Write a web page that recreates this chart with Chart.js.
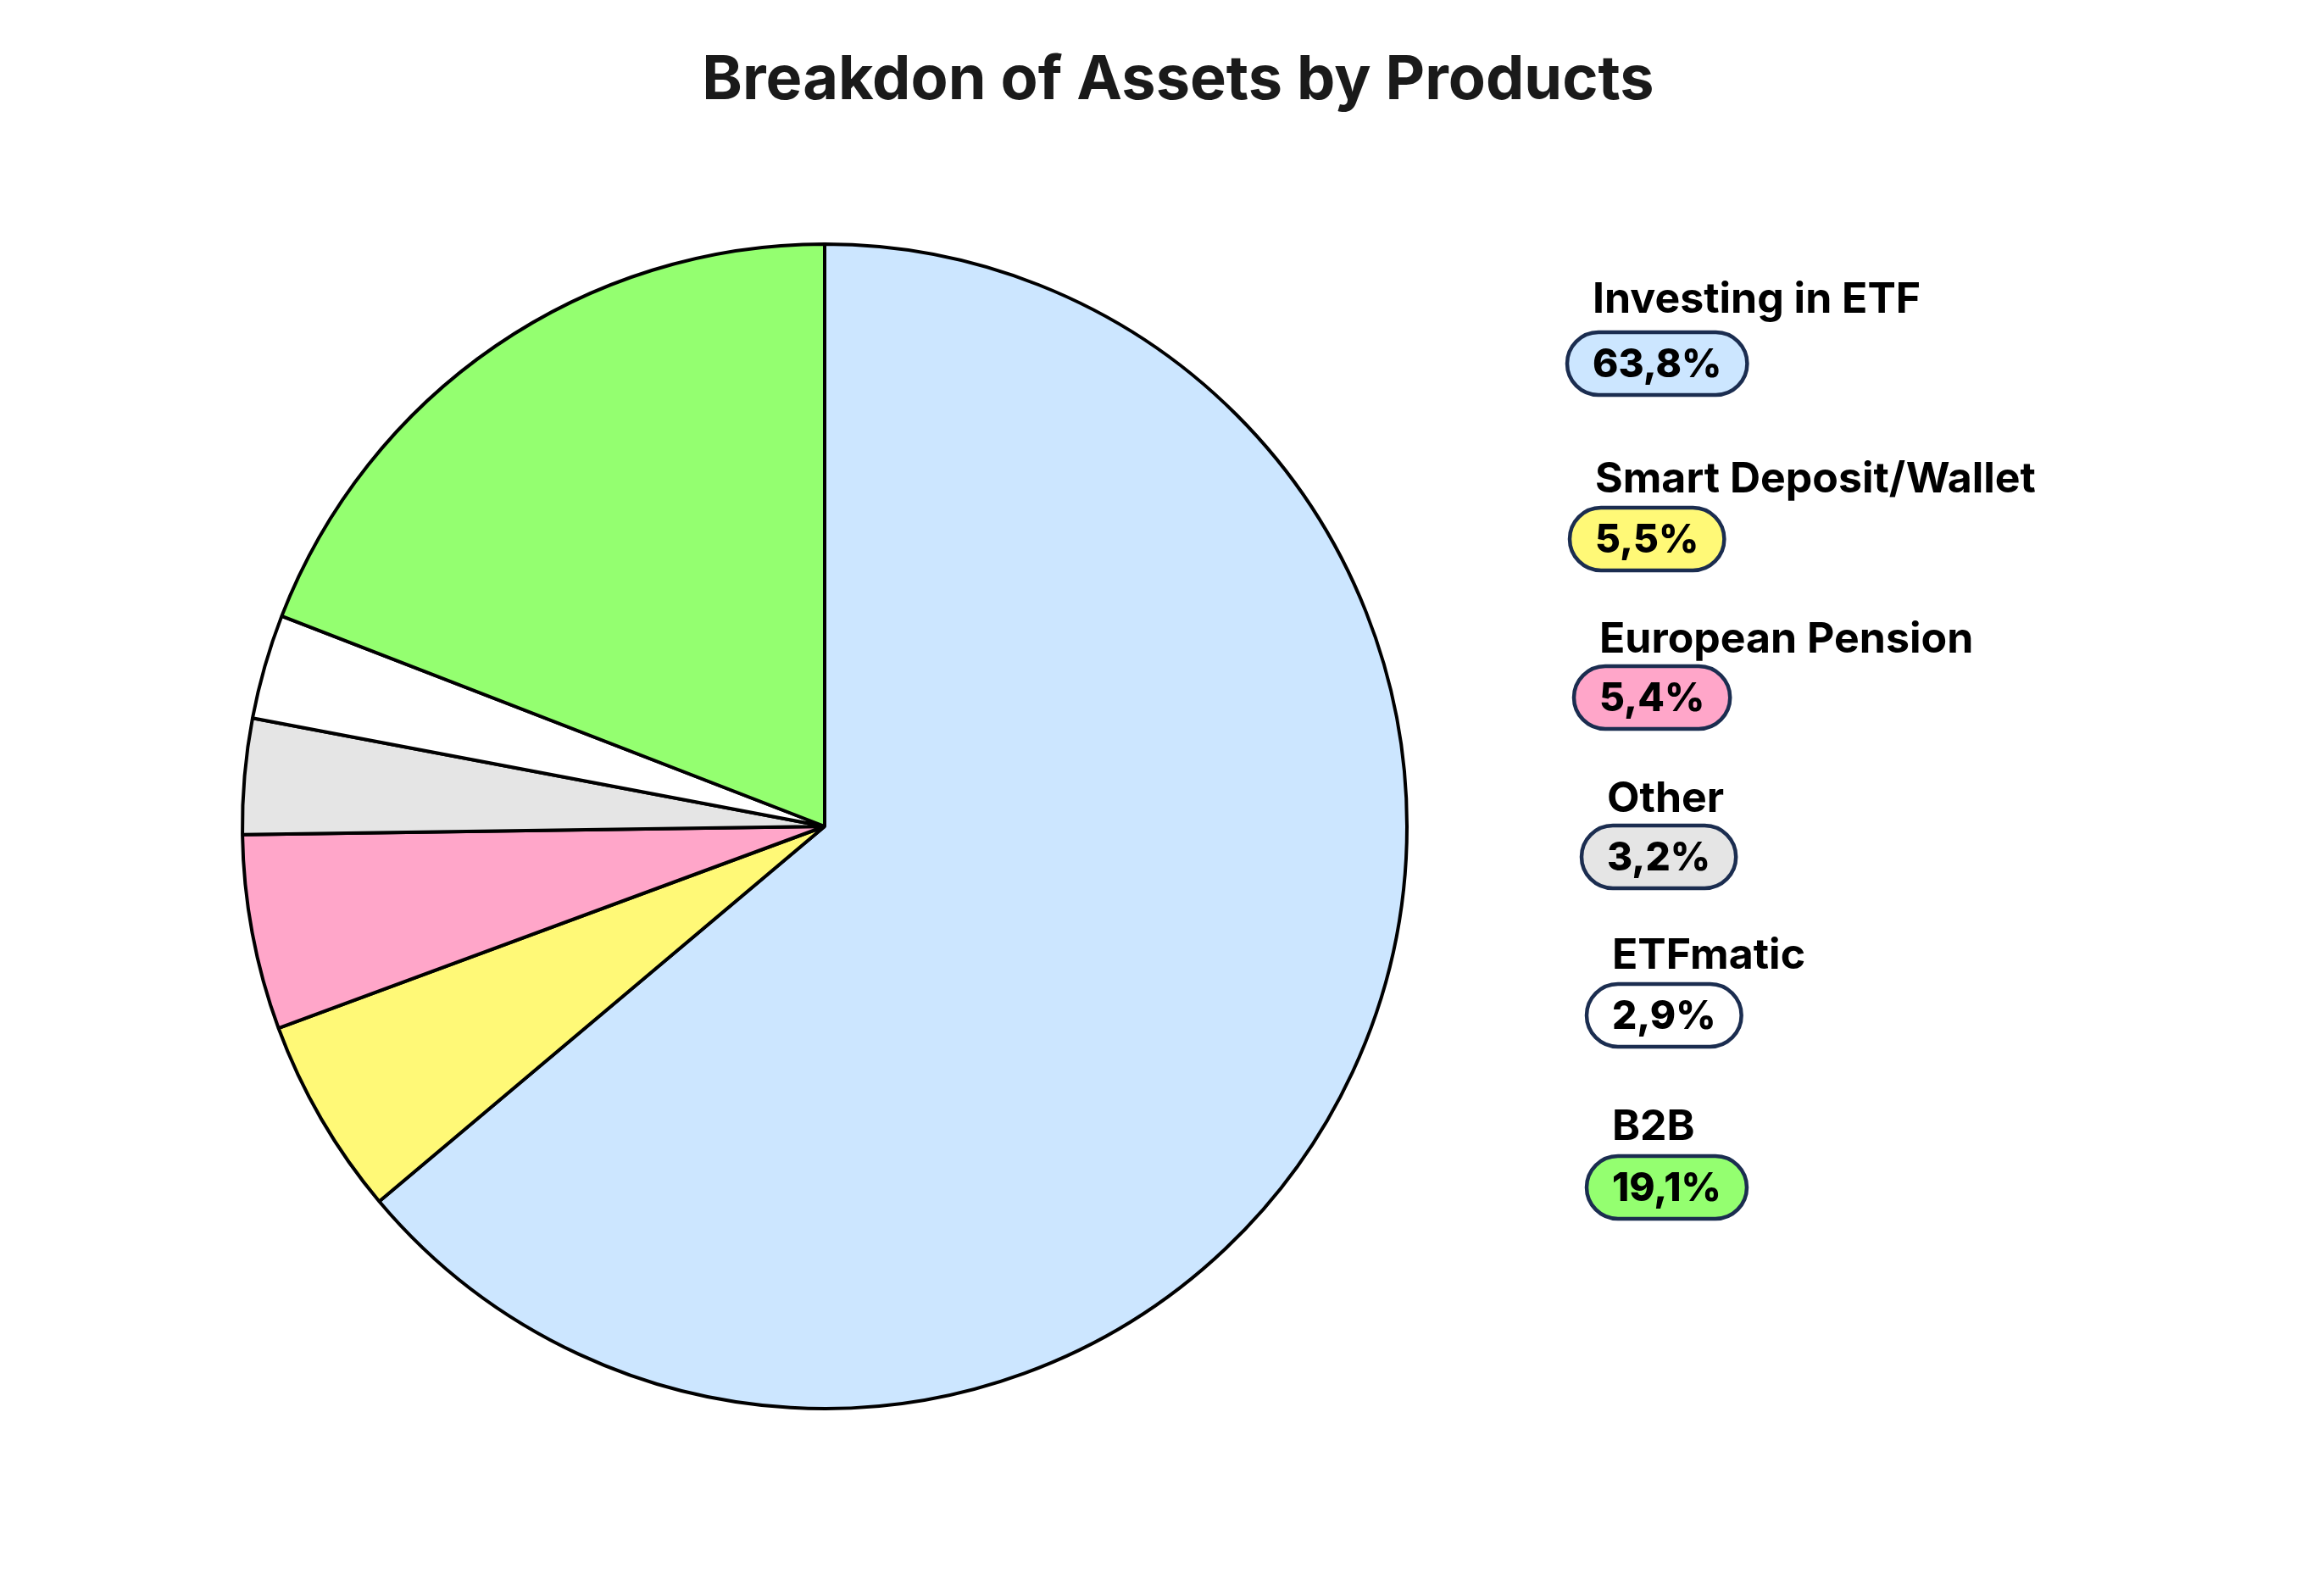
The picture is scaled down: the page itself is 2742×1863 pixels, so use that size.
<!DOCTYPE html>
<html>
<head>
<meta charset="utf-8">
<title>Breakdon of Assets by Products</title>
<script src="https://cdn.jsdelivr.net/npm/chart.js@4.4.1/dist/chart.umd.min.js"></script>
<style>
    html, body { margin: 0; padding: 0; background: #ffffff; }
    canvas { display: block; }
</style>
</head>
<body>
<canvas id="assetsChart" width="2742" height="1863"></canvas>
<script>
// chart data
const chartTitle = 'Breakdon of Assets by Products';
const products = ['Investing in ETF', 'Smart Deposit/Wallet', 'European Pension', 'Other', 'ETFmatic', 'B2B'];
const shares = [63.8, 5.5, 5.4, 3.2, 2.9, 19.1];
const sliceColors = ['#cce6ff', '#fff977', '#ffa6c9', '#e5e5e5', '#ffffff', '#94ff70'];

const FONT = 'Inter, "Liberation Sans", Arial, sans-serif';

// format 63.8 -> "63,8%"
function formatShare(v) {
    return v.toFixed(1).replace('.', ',') + '%';
}

// rounded pill behind the percentage
function pill(ctx, x, y, w, h) {
    const r = h / 2;
    ctx.beginPath();
    ctx.moveTo(x + r, y);
    ctx.lineTo(x + w - r, y);
    ctx.arc(x + w - r, y + r, r, -Math.PI / 2, Math.PI / 2);
    ctx.lineTo(x + r, y + h);
    ctx.arc(x + r, y + r, r, Math.PI / 2, Math.PI * 1.5);
    ctx.closePath();
}

// title + side legend with labels and pills
const sideLegend = {
    id: 'sideLegend',
    afterDraw(chart) {
        const ctx = chart.ctx;
        ctx.save();

        ctx.fillStyle = '#1a1a1a';
        ctx.font = 'bold 72px ' + FONT;
        ctx.textAlign = 'center';
        ctx.textBaseline = 'alphabetic';
        ctx.fillText(chartTitle, 1390, 117);

        // row layout: text left, label baseline, pill middle
        const rows = [
            [1879, 369, 429],
            [1882, 581, 636],
            [1887, 770, 823],
            [1896, 958, 1011],
            [1902, 1143, 1198],
            [1902, 1345, 1401]
        ];
        const labels = chart.data.labels;
        const ds = chart.data.datasets[0];
        ctx.textAlign = 'left';
        labels.forEach((lab, i) => {
            const [tx, by, py] = rows[i];
            ctx.font = 'bold 50px ' + FONT;
            ctx.fillStyle = '#000000';
            ctx.textBaseline = 'alphabetic';
            ctx.fillText(lab, tx, by);

            const txt = formatShare(ds.data[i]);
            ctx.font = '800 46px ' + FONT;
            const w = ctx.measureText(txt).width;
            pill(ctx, tx - 30, py - 37, w + 60, 74);
            ctx.fillStyle = ds.backgroundColor[i];
            ctx.fill();
            ctx.lineWidth = 4.5;
            ctx.strokeStyle = '#1b2d50';
            ctx.stroke();

            ctx.fillStyle = '#000000';
            ctx.textBaseline = 'middle';
            ctx.fillText(txt, tx, py + 2);
        });
        ctx.restore();
    }
};

new Chart(document.getElementById('assetsChart'), {
    type: 'pie',
    data: {
        labels: products,
        datasets: [{
            data: shares,
            backgroundColor: sliceColors,
            borderColor: '#000000',
            borderWidth: 4,
            hoverOffset: 0
        }]
    },
    options: {
        responsive: false,
        devicePixelRatio: 1,
        animation: false,
        events: [],
        radius: 687,
        layout: {
            padding: { top: 288, left: 286, right: 1082, bottom: 201 }
        },
        plugins: {
            legend: { display: false },
            tooltip: { enabled: false },
            title: { display: false }
        }
    },
    plugins: [sideLegend]
});
</script>
</body>
</html>
